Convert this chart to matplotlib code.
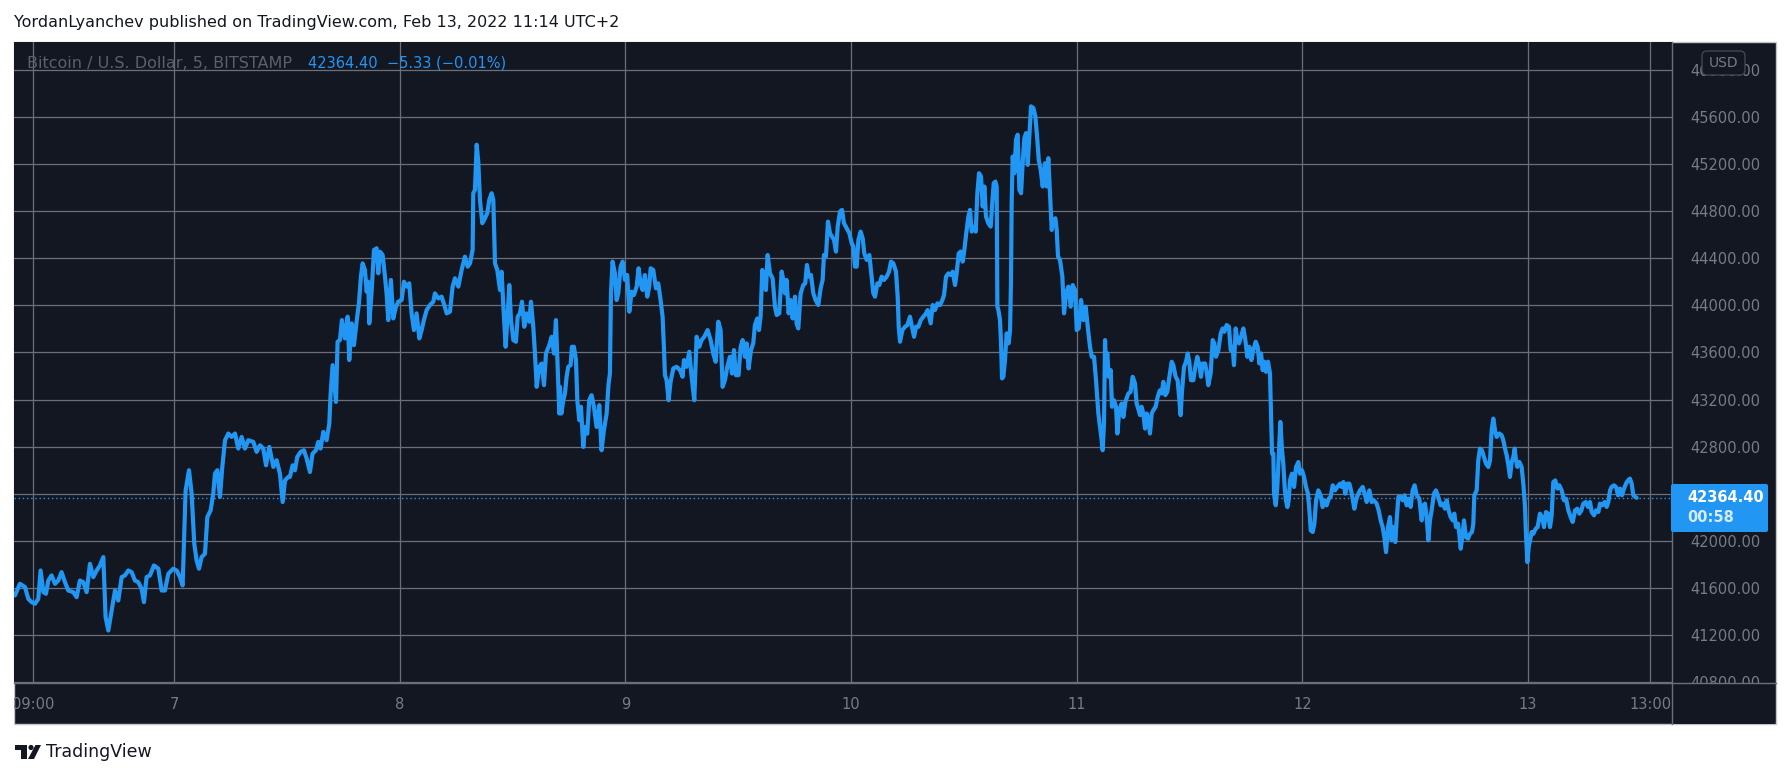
import matplotlib.pyplot as plt
from matplotlib.patches import Rectangle, FancyBboxPatch, Polygon, Circle
from matplotlib.lines import Line2D
from matplotlib.transforms import IdentityTransform
import numpy as np

# BTC/USD 5-min, hours counted from Feb 6 00:00
hours = [
    7.09, 7.62, 8.16, 8.51, 8.86, 9.22, 9.57, 9.82, 10.11, 10.39, 10.64, 10.99, 11.35, 11.70,
    12.05, 12.41, 12.76, 13.30, 13.65, 14.00, 14.36, 14.71, 15.07, 15.42, 15.78, 16.13, 16.49,
    16.73, 17.02, 17.37, 17.73, 18.08, 18.44, 18.79, 19.14, 19.50, 19.85, 20.21, 20.56, 20.81,
    21.09, 21.45, 21.87, 22.34, 22.69, 23.04, 23.40, 23.93, 24.29, 24.64, 24.92, 25.06, 25.24,
    25.60, 25.88, 26.16, 26.41, 26.66, 26.94, 27.30, 27.55, 27.90, 28.18, 28.36, 28.61, 28.89,
    29.14, 29.43, 29.78, 30.13, 30.49, 30.84, 31.20, 31.55, 31.91, 32.44, 32.79, 33.15, 33.50,
    33.79, 34.14, 34.57, 34.92, 35.27, 35.56, 35.81, 36.16,
    36.33, 36.62, 36.87, 37.11, 37.47, 37.82, 38.11, 38.46, 38.74, 39.10, 39.35, 39.59, 39.88,
    40.23, 40.52, 40.66, 40.87, 41.05, 41.23, 41.40, 41.65, 41.86, 42.18, 42.47, 42.64, 42.89,
    43.14, 43.42, 43.67, 43.88, 44.06, 44.31, 44.49, 44.66, 44.77, 45.02, 45.27, 45.55, 45.73,
    45.91, 46.19, 46.44, 46.61, 46.79, 47.07, 47.32, 47.61, 47.85, 48.21, 48.46, 48.74, 49.02,
    49.27, 49.52, 49.80, 50.09, 50.34, 50.58, 50.87, 51.22, 51.58, 51.75, 52.11, 52.46, 52.75,
    53.00, 53.35, 53.63, 53.88, 54.24, 54.59, 54.94, 55.23, 55.48, 55.76, 55.83, 56.01, 56.19,
    56.36, 56.54, 56.79, 57.07, 57.32, 57.53, 57.78, 57.96, 58.14, 58.38, 58.67, 58.84, 59.02,
    59.27, 59.45, 59.66, 59.84, 60.09, 60.37, 60.55, 60.79, 61.01, 61.25, 61.50, 61.79, 61.96,
    62.21, 62.39, 62.57, 62.85, 63.10, 63.35, 63.56, 63.91, 64.16, 64.41, 64.62, 64.87, 64.98,
    65.04, 65.19, 65.40, 65.58, 65.75, 65.93, 66.18, 66.32, 66.53, 66.75, 66.89, 67.10, 67.28,
    67.53, 67.70, 67.95, 68.16, 68.41, 68.66, 68.94, 69.23, 69.47, 69.72, 70.01, 70.22, 70.36,
    70.47, 70.64, 70.89, 71.07, 71.25, 71.50, 71.71, 71.96, 72.20, 72.42, 72.67, 72.91, 73.20,
    73.41, 73.62, 73.84, 74.08, 74.33, 74.54, 74.69, 74.97, 75.25, 75.50, 75.75, 75.96, 76.10,
    76.21, 76.39, 76.60, 76.81, 77.10, 77.45, 77.81, 78.09, 78.23, 78.51, 78.80, 79.05, 79.33,
    79.58, 79.86, 80.11, 80.39, 80.75, 81.07, 81.35, 81.60, 81.88, 82.13, 82.34, 82.59, 82.84,
    83.12, 83.34, 83.55, 83.76, 84.04, 84.26, 84.47, 84.72, 84.90, 85.11, 85.36, 85.60, 85.78,
    86.03, 86.21, 86.38, 86.56, 86.77, 86.95, 87.13, 87.38, 87.66, 87.91, 88.09, 88.37, 88.62,
    88.80, 88.97, 89.15, 89.36, 89.57, 89.79, 90.04, 90.21, 90.39, 90.64, 90.92, 91.13, 91.31,
    91.52, 91.74, 91.99, 92.23, 92.52, 92.77, 92.98, 93.12, 93.33, 93.55,
    93.76, 93.98, 94.19, 94.40, 94.58, 94.83, 95.04, 95.25, 95.54, 95.82, 96.07, 96.25, 96.42,
    96.60, 96.78, 97.02, 97.24, 97.41, 97.66, 97.95, 98.19, 98.37, 98.55, 98.80, 99.01, 99.26,
    99.51, 99.79, 100.04, 100.25, 100.50, 100.78, 100.96, 101.07, 101.21, 101.46, 101.74, 101.99,
    102.27, 102.48, 102.70, 102.91, 103.16, 103.41, 103.69, 103.97, 104.15, 104.47, 104.68,
    104.93, 105.18, 105.46, 105.71, 105.89, 106.10, 106.35, 106.60, 106.81, 107.06, 107.23,
    107.45, 107.66, 107.87, 108.05, 108.23, 108.48, 108.65, 108.83, 109.08, 109.26, 109.43,
    109.61, 109.82, 110.00, 110.18, 110.35, 110.60, 110.85, 110.99, 111.17, 111.35, 111.49,
    111.56, 111.67, 111.84, 111.95, 112.06, 112.20, 112.37, 112.55, 112.76, 112.91, 113.01,
    113.08, 113.19, 113.37, 113.54, 113.72, 113.90, 114.08, 114.25, 114.43, 114.61, 114.79,
    114.96, 115.14, 115.39, 115.60, 115.81, 115.96, 116.17, 116.38, 116.63, 116.81, 116.98,
    117.16, 117.34, 117.52, 117.73, 117.87, 118.01, 118.22, 118.47, 118.65, 118.86, 119.11,
    119.36, 119.57, 119.82, 120.00, 120.21, 120.46, 120.71, 120.95, 121.17, 121.41, 121.59,
    121.84, 122.05, 122.30,
    122.65, 122.76, 122.90, 123.01, 123.11, 123.25, 123.40, 123.61, 123.75, 123.96, 124.18,
    124.32, 124.53, 124.78, 124.96, 125.17, 125.49, 125.73, 125.95, 126.20, 126.37, 126.59,
    126.73, 126.90, 127.08, 127.26, 127.44, 127.61, 127.79, 127.97, 128.15, 128.39, 128.61,
    128.85, 129.03, 129.21, 129.42, 129.63, 129.85, 130.10, 130.27, 130.52, 130.73, 130.91,
    131.05, 131.19, 131.41, 131.62, 131.80, 131.97, 132.15, 132.40, 132.61, 132.82, 133.04,
    133.21, 133.39, 133.64, 133.82, 133.99, 134.24, 134.46, 134.63, 134.81, 135.06, 135.31,
    135.52, 135.70, 135.94, 136.19, 136.37, 136.58, 136.72, 136.90, 137.08, 137.26, 137.47,
    137.72, 137.93, 138.14, 138.36, 138.57, 138.78, 139.03, 139.24, 139.42, 139.60, 139.77,
    139.95, 140.13, 140.34, 140.55, 140.66, 140.77, 140.91, 140.98, 141.16, 141.33, 141.51,
    141.65, 141.83, 141.97, 142.11, 142.25, 142.40, 142.54, 142.68, 142.89, 143.11, 143.32,
    143.57, 143.74, 143.96, 144.17, 144.38, 144.59, 144.74, 144.88, 145.09, 145.27, 145.45,
    145.69, 145.94, 146.15, 146.37, 146.58, 146.79, 147.00, 147.22, 147.47, 147.71, 148.00,
    148.17, 148.35, 148.56, 148.78, 148.99, 149.17, 149.34, 149.52, 149.70, 149.88, 150.12,
    150.41, 150.66, 150.83, 151.12,
    151.36, 151.61, 151.89, 152.11, 152.32, 152.53, 152.71, 152.89, 153.10, 153.31, 153.49,
    153.67, 153.88, 154.02, 154.20, 154.44, 154.66, 154.87, 155.08, 155.30, 155.51, 155.72,
    155.93, 156.15, 156.43, 156.68, 156.86, 157.03, 157.21, 157.39, 157.56, 157.74, 157.99,
    158.20, 158.45, 158.70, 158.91, 159.16, 159.34, 159.55, 159.76, 159.98, 160.15, 160.33,
    160.54, 160.68, 160.83, 161.00, 161.18, 161.39, 161.61, 161.82, 162.03, 162.17, 162.28,
    162.53, 162.70, 162.88, 163.09, 163.31, 163.52, 163.77, 163.95, 164.12, 164.30, 164.48,
    164.65, 164.94, 165.19, 165.36, 165.54, 165.72, 165.90, 166.07, 166.25, 166.43, 166.57,
    166.71, 166.85, 167.07, 167.31, 167.49, 167.67, 167.77, 167.92, 168.06, 168.20, 168.38,
    168.55, 168.80, 169.01, 169.26, 169.48, 169.69, 169.90, 170.11, 170.33, 170.50, 170.68,
    170.89, 171.11, 171.32, 171.57, 171.82, 172.03, 172.28, 172.52, 172.74, 172.99, 173.23,
    173.45, 173.66, 173.87, 174.12, 174.37, 174.58, 174.76, 175.01, 175.22, 175.47, 175.64,
    175.89, 176.14, 176.35, 176.53, 176.71, 176.88, 177.13, 177.35, 177.56, 177.77, 177.98,
    178.20, 178.41, 178.62, 178.83, 179.01, 179.19, 179.40, 179.54,
]

price = [
    41535, 41634, 41606, 41506, 41478, 41464, 41506, 41747, 41563, 41549, 41662, 41705, 41634, 41662,
    41733, 41648, 41577, 41563, 41520, 41662, 41648, 41563, 41804, 41691, 41747, 41790, 41861,
    41350, 41237, 41407, 41577, 41492, 41691, 41705, 41747, 41733, 41662, 41648, 41592, 41478,
    41691, 41705, 41790, 41762, 41577, 41577, 41719, 41762, 41747, 41691, 41620, 41974, 42428,
    42599, 42400, 41974, 41832, 41762, 41861, 41889, 42201, 42258, 42400, 42570, 42599, 42372,
    42627, 42854, 42911, 42882, 42911, 42783, 42882, 42783, 42854, 42840, 42755, 42811, 42783,
    42641, 42797, 42627, 42684, 42570, 42329, 42513, 42542,
    42542, 42641, 42599, 42712, 42755, 42769, 42698, 42584, 42740, 42769, 42840, 42783, 42925,
    42854, 42996, 43251, 43492, 43336, 43180, 43691, 43705, 43875, 43719, 43904, 43535, 43847,
    43662, 43861, 44017, 44244, 44357, 44300, 44116, 44201, 43847, 44116, 44471, 44485, 44272,
    44456, 44428, 44244, 44102, 43875, 44216, 43889, 43989, 44031, 44045, 44201, 44159, 44187,
    43932, 43790, 43932, 43719, 43790, 43875, 43960, 44003, 44031, 44102, 44059, 44074, 44003,
    43932, 43946, 44159, 44230, 44159, 44301, 44414, 44329, 44357, 44471, 44953, 44982, 45365,
    45223, 44896, 44698, 44740, 44783, 44896, 44953, 44896, 44357, 44301, 44130, 44286, 44003,
    43648, 43875, 44173, 43875, 43705, 43691, 43904, 43932, 44031, 43818, 43932, 43861, 44031,
    43818, 43591, 43308, 43478, 43506, 43322, 43591, 43662, 43733, 43591, 43875, 43336, 43081,
    43308, 43081, 43194, 43251, 43393, 43478, 43492, 43648, 43648, 43535, 43194, 43024, 43138,
    42797, 42967, 42910, 43194, 43237, 43138, 42967, 43152, 42769, 42939, 43081, 43336, 43421,
    44102, 44372, 44272, 44045, 44102, 44329, 44372, 44216, 44258, 43946, 44116, 44088, 44159,
    44315, 44187, 44130, 44258, 44074, 44159, 44315, 44301, 44145, 44187, 44045, 43904, 43648,
    43407, 43364, 43194, 43350, 43464, 43478, 43450, 43393, 43535, 43478, 43606, 43393, 43194,
    43733, 43648, 43705, 43733, 43790, 43705, 43591, 43521, 43861, 43790, 43308, 43364, 43478,
    43563, 43421, 43620, 43407, 43407, 43648, 43705, 43563, 43677, 43464, 43620, 43677, 43833,
    43889, 43790, 43904, 44301, 44244, 44130, 44428, 44272, 44230, 43989, 43918, 43932, 44287,
    44216, 44102, 44216, 43932, 44045, 43889, 44074, 43847, 43804, 44102, 44173, 44187, 44343,
    44244, 44258, 44102, 44045, 44003, 44145, 44216, 44428, 44414, 44712,
    44613, 44584, 44556, 44457, 44669, 44797, 44811, 44698, 44655, 44613, 44528, 44499, 44329,
    44329, 44556, 44627, 44570, 44442, 44386, 44428, 44244, 44102, 44074, 44187, 44173, 44244,
    44216, 44244, 44286, 44372, 44357, 44286, 44074, 43818, 43691, 43790, 43818, 43832,
    43904, 43818, 43733, 43818, 43818, 43875, 43904, 43932, 43960, 43847, 44003,
    43960, 44017, 44003, 44045, 44088, 44244, 44272, 44258, 44286, 44173, 44272,
    44442, 44457, 44372, 44471, 44599, 44755, 44811, 44627, 44669, 44627, 44953,
    45123, 45095, 44840, 45010, 44755, 44698, 44669, 44840, 45038, 45052, 45010,
    43989, 43960, 43875, 43677, 43379, 43393, 43535, 43762, 43677, 43790, 44216,
    44868, 45265, 45123, 45407, 45450, 44982, 44953, 45208, 45421, 45464, 45194,
    45435, 45691, 45677, 45606, 45407, 45237, 45152, 45010, 45208, 45010, 45251,
    44953, 44641, 44726, 44740, 44641, 44414, 44386, 44244, 43932, 44102, 44159,
    43989, 44173, 44130, 43790, 43804, 44045, 43875, 43989, 43818, 43648, 43563,
    43563, 43364, 43081,
    42854, 42769, 42996, 43705, 43478, 43591, 43393, 43450, 43138, 43194, 43138,
    42911, 43109, 43166, 43052, 43180, 43251, 43265, 43393, 43336, 43166, 43109,
    43067, 43138, 43081, 42953, 43081, 43024, 42911, 43081, 43109, 43138, 43223,
    43279, 43251, 43350, 43237, 43265, 43393, 43521, 43492, 43393, 43364, 43194,
    43067, 43265, 43478, 43521, 43591, 43521, 43364, 43364, 43478, 43563, 43492,
    43393, 43506, 43506, 43435, 43322, 43421, 43705, 43677, 43563, 43620, 43762,
    43804, 43776, 43833, 43818, 43620, 43648, 43492, 43804, 43705, 43677, 43733,
    43804, 43705, 43563, 43648, 43535, 43620, 43691, 43648, 43506, 43591, 43450,
    43521, 43435, 43521, 43421, 43081, 42740, 42740, 42400, 42301, 42457, 42769,
    43010, 42769, 42655, 42457, 42343, 42286, 42343, 42513, 42570, 42457, 42627,
    42669, 42570, 42598, 42542, 42457, 42400, 42258, 42088, 42074, 42145, 42343,
    42428, 42386, 42286, 42343, 42301, 42357, 42372, 42471, 42428, 42457, 42485,
    42457, 42499, 42400, 42485, 42485, 42428, 42357, 42272, 42343, 42386, 42428,
    42457, 42386, 42329, 42428,
    42329, 42343, 42315, 42258, 42173, 42116, 42031, 41903, 42116, 42201, 42003,
    42116, 41989, 42173, 42372, 42372, 42343, 42386, 42301, 42357, 42287, 42428,
    42471, 42386, 42357, 42173, 42301, 42315, 42201, 42003, 42173, 42258, 42400,
    42428, 42372, 42301, 42315, 42272, 42343, 42258, 42201, 42173, 42230, 42116,
    42145, 42059, 41932, 42031, 42173, 42031, 42017, 42059, 42074, 42145, 42386,
    42428, 42684, 42783, 42769, 42712, 42655, 42627, 42684, 42939, 43038, 42939,
    42882, 42911, 42896, 42854, 42783, 42726, 42641, 42542, 42669, 42712, 42783,
    42684, 42627, 42669, 42627, 42485, 42287, 42059, 41818, 41946, 42003, 42074,
    42059, 42102, 42116, 42230, 42201, 42116, 42244, 42230, 42116, 42216, 42499,
    42513, 42443, 42471, 42428, 42343, 42357, 42258, 42201, 42159, 42258, 42272,
    42230, 42258, 42315, 42329, 42287, 42329, 42244, 42216, 42258, 42244, 42315,
    42301, 42329, 42287, 42329, 42428, 42457, 42471, 42457, 42386, 42443, 42386,
    42443, 42485, 42513, 42528, 42485, 42386, 42372, 42364.40,
]

last_price = 42364.40
header = 'YordanLyanchev published on TradingView.com, Feb 13, 2022 11:14 UTC+2'
symbol = 'Bitcoin / U.S. Dollar, 5, BITSTAMP'
quote = '42364.40  \u22125.33 (\u22120.01%)'
countdown = '00:58'
y_ticks = np.arange(40800, 46001, 400)
x_ticks = [9, 24, 48, 72, 96, 120, 144, 168, 181]
x_labels = ['09:00', '7', '8', '9', '10', '11', '12', '13', '13:00']

W, H = 1791, 778
BG = '#131722'
GRID = '#6c6f7a'
TXT = '#787b86'
BLUE = '#2196f3'
px = IdentityTransform()

fig = plt.figure(figsize=(W / 100, H / 100), dpi=100)
fig.patch.set_facecolor('white')


def rect(x0, y0, x1, y1, **kw):
    # pixel box measured from the top-left corner
    return Rectangle((x0, H - y1), x1 - x0, y1 - y0, transform=px, **kw)


fig.add_artist(rect(14, 42, 1776, 724, facecolor=BG, edgecolor='#c3c5cb', lw=1, zorder=-1))

ax = fig.add_axes([14 / W, 1 - 683 / H, (1672 - 14) / W, (683 - 42) / H])
ax.set_facecolor(BG)
ax.plot(hours, price, color=BLUE, lw=3.0, solid_joinstyle='round', solid_capstyle='round', zorder=3)
ax.axhline(last_price, color=BLUE, lw=1, ls=(0, (1, 2)), zorder=2)
ax.set_xlim(6.99, 183.3)
ax.set_ylim(40791, 46238)
ax.set_yticks(y_ticks, [f'{v:.2f}' for v in y_ticks])
ax.yaxis.tick_right()
ax.set_xticks(x_ticks, x_labels)
ax.grid(True, color=GRID, lw=0.9)
ax.tick_params(length=0, colors=TXT, labelsize=10.5)
ax.tick_params(axis='y', pad=13)
ax.tick_params(axis='x', pad=10)
for s in ax.spines.values():
    s.set_visible(False)

# hide what falls under the time scale / outside the panel
fig.add_artist(rect(1673, 684, 1775, 723.5, facecolor=BG, edgecolor='none', zorder=2))
fig.add_artist(rect(0, 684, 13.5, 726, facecolor='white', edgecolor='none', zorder=2))
fig.add_artist(Line2D([14, 1776], [H - 683, H - 683], color=GRID, lw=1, transform=px, zorder=3))
fig.add_artist(Line2D([1672, 1672], [H - 42, H - 724], color=GRID, lw=1, transform=px, zorder=3))

# last price tag
fig.add_artist(FancyBboxPatch((1671, H - 532), 97, 48, boxstyle='round,pad=0,rounding_size=2',
                              facecolor=BLUE, edgecolor='none', transform=px, zorder=4))
fig.text(1687, H - 498, f'{last_price:.2f}', transform=px, color='white', fontsize=10.5,
         fontweight='bold', va='center', zorder=5)
fig.text(1687, H - 518, countdown, transform=px, color='#d6ebfd', fontsize=10.5,
         fontweight='bold', va='center', zorder=5)

# currency badge
fig.add_artist(FancyBboxPatch((1702, H - 75), 43, 24, boxstyle='round,pad=0,rounding_size=5',
                              facecolor=BG, edgecolor='#434651', lw=1, transform=px, zorder=4))
fig.text(1723.5, H - 63, 'USD', transform=px, color=TXT, fontsize=10, ha='center', va='center', zorder=5)

# texts
fig.text(14, H - 22, header, transform=px, color='#131722', fontsize=11.5, va='center')
fig.text(27, H - 63, symbol, transform=px, color='#5d606b', fontsize=11.5, va='center', zorder=5)
fig.text(308, H - 63, quote, transform=px, color=BLUE, fontsize=10.5, va='center', zorder=5)

# TradingView mark
logo = '#131722'
fig.add_artist(rect(15, 745, 27, 749.5, facecolor=logo, edgecolor='none'))
fig.add_artist(rect(21, 745, 27, 759, facecolor=logo, edgecolor='none'))
fig.add_artist(Circle((31, H - 747.5), 2.6, transform=px, facecolor=logo, edgecolor='none'))
fig.add_artist(Polygon([(28, H - 759), (34, H - 759), (41, H - 745), (35.5, H - 745)],
                       closed=True, transform=px, facecolor=logo, edgecolor='none'))
fig.text(46, H - 752, 'TradingView', transform=px, color=logo, fontsize=12.5, va='center')

fig.savefig('out.png', dpi=100, facecolor='white')
